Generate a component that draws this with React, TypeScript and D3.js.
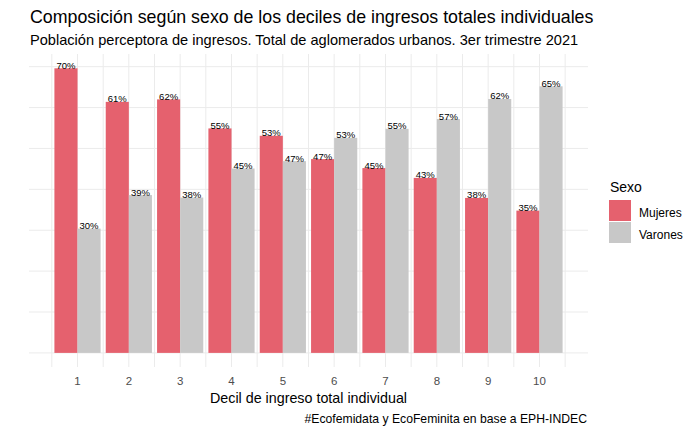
import { useRef, useEffect } from "react";
import * as d3 from "d3";

// deciles de ingreso
const deciles = [1, 2, 3, 4, 5, 6, 7, 8, 9, 10];
// share of each sex within the decile
const mujeres = [0.696, 0.614, 0.62, 0.549, 0.531, 0.474, 0.452, 0.428, 0.379, 0.348];
const varones = [0.304, 0.386, 0.38, 0.451, 0.469, 0.526, 0.548, 0.572, 0.621, 0.652];
const sexos = ["Mujeres", "Varones"];
const colores = ["#e5616e", "#c8c8c8"];
const yBreaks = [0, 0.1, 0.2, 0.3, 0.4, 0.5, 0.6, 0.7];

const FONT = "'Liberation Sans', Arial, sans-serif";

function draw(ref: SVGSVGElement | null) {
  const svg = d3.select(ref);
  svg.selectAll("*").remove();

  const left = 29;
  const right = 588;
  const top = 54;
  const bottom = 367;

  const x = d3.scaleLinear().domain([0.055, 10.945]).range([left, right]);
  const y = d3.scaleLinear().domain([-0.0345, 0.731]).range([bottom, top]);
  const color = d3.scaleOrdinal<string, string>().domain(sexos).range(colores);

  svg.append("rect").attr("width", 700).attr("height", 432).attr("fill", "#fff");

  const grid = svg.append("g").attr("stroke", "#ebebeb").attr("fill", "none");
  grid
    .selectAll("line.h")
    .data(yBreaks)
    .join("line")
    .attr("x1", left)
    .attr("x2", right)
    .attr("y1", (d) => y(d))
    .attr("y2", (d) => y(d))
    .attr("stroke-width", 1);
  const vBreaks = d3.range(0.5, 11, 0.5);
  grid
    .selectAll("line.v")
    .data(vBreaks)
    .join("line")
    .attr("y1", top)
    .attr("y2", bottom)
    .attr("x1", (d) => x(d))
    .attr("x2", (d) => x(d))
    .attr("stroke-width", 1);

  const rows = deciles.flatMap((d, i) => [
    { decil: d, sexo: "Mujeres", value: mujeres[i], off: -0.45 },
    { decil: d, sexo: "Varones", value: varones[i], off: 0 },
  ]);

  svg
    .append("g")
    .selectAll("rect")
    .data(rows)
    .join("rect")
    .attr("x", (d) => x(d.decil + d.off))
    .attr("width", (d) => x(d.decil + d.off + 0.45) - x(d.decil + d.off))
    .attr("y", (d) => y(d.value))
    .attr("height", (d) => y(0) - y(d.value))
    .attr("fill", (d) => color(d.sexo));

  svg
    .append("g")
    .attr("font-family", FONT)
    .attr("font-size", 9.5)
    .attr("text-anchor", "middle")
    .attr("fill", "#000")
    .selectAll("text")
    .data(rows)
    .join("text")
    .attr("x", (d) => x(d.decil + d.off + 0.225))
    .attr("y", (d) => y(d.value) + 0.5)
    .text((d) => `${Math.round(d.value * 100)}%`);

  // x axis labels
  svg
    .append("g")
    .attr("font-family", FONT)
    .attr("font-size", 11.5)
    .attr("fill", "#4d4d4d")
    .attr("text-anchor", "middle")
    .selectAll("text")
    .data(deciles)
    .join("text")
    .attr("x", (d) => x(d))
    .attr("y", 385)
    .text((d) => d);

  svg
    .append("text")
    .attr("x", (left + right) / 2)
    .attr("y", 403)
    .attr("text-anchor", "middle")
    .attr("font-family", FONT)
    .attr("font-size", 14.3)
    .text("Decil de ingreso total individual");

  svg
    .append("text")
    .attr("x", 30)
    .attr("y", 22.7)
    .attr("font-family", FONT)
    .attr("font-size", 17.8)
    .text("Composición según sexo de los deciles de ingresos totales individuales");

  svg
    .append("text")
    .attr("x", 30)
    .attr("y", 44.5)
    .attr("font-family", FONT)
    .attr("font-size", 14.6)
    .text("Población perceptora de ingresos. Total de aglomerados urbanos. 3er trimestre 2021");

  svg
    .append("text")
    .attr("x", 587)
    .attr("y", 423)
    .attr("text-anchor", "end")
    .attr("font-family", FONT)
    .attr("font-size", 12.2)
    .text("#Ecofemidata y EcoFeminita en base a EPH-INDEC");

  // legend
  const leg = svg.append("g").attr("font-family", FONT);
  leg.append("text").attr("x", 610).attr("y", 192).attr("font-size", 14).text("Sexo");
  sexos.forEach((s, i) => {
    leg
      .append("rect")
      .attr("x", 609)
      .attr("y", 200 + i * 22)
      .attr("width", 22)
      .attr("height", 21)
      .attr("fill", color(s));
    leg
      .append("text")
      .attr("x", 639)
      .attr("y", 216.5 + i * 22)
      .attr("font-size", 12)
      .text(s);
  });
}

export default function App() {
  const ref = useRef<SVGSVGElement>(null);
  useEffect(() => {
    draw(ref.current);
  }, []);
  return (
    <svg
      ref={ref}
      width={700}
      height={432}
      style={{ position: "absolute", left: 0, top: 0 }}
    />
  );
}
